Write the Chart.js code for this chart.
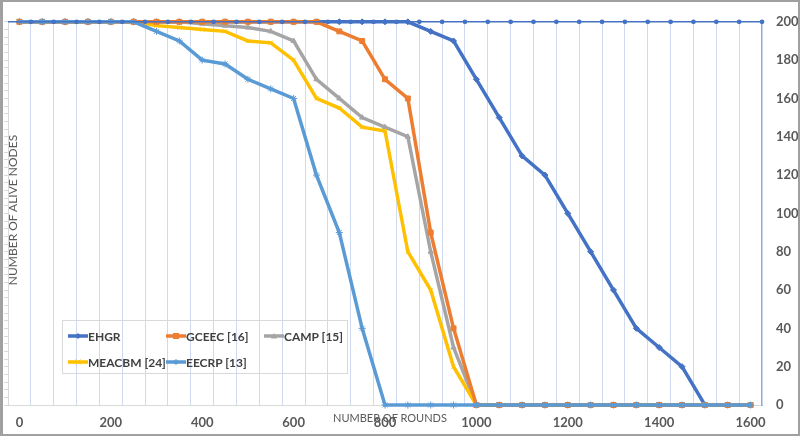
<!DOCTYPE html>
<html><head><meta charset="utf-8">
<script src="https://cdn.jsdelivr.net/npm/chart.js@4.4.1/dist/chart.umd.min.js"></script>
<style>
html,body{margin:0;padding:0;background:#fff;}
#wrap{position:relative;width:800px;height:436px;overflow:hidden;background:#fff;}
#c{position:absolute;left:0;top:0;}
#frame{position:absolute;left:0;top:0;width:800px;height:436px;box-sizing:border-box;border:2px solid #a0a0a0;border-left-width:3px;pointer-events:none;}
#legend{position:absolute;left:62px;top:320px;width:286px;height:54px;border:1px solid #d9d9d9;box-sizing:border-box;}
.item{position:absolute;font:bold 12px Lato, sans-serif;color:#404040;white-space:nowrap;display:flex;align-items:center;height:14px;}
#xtitle{position:absolute;left:333px;top:411px;font:11px Lato, sans-serif;color:#595959;white-space:nowrap;}
#ytitle{position:absolute;left:12px;top:210px;transform:translate(-50%,-50%) rotate(-90deg);font:12px Lato, sans-serif;color:#595959;white-space:nowrap;}
</style></head>
<body>
<div id="wrap">
<canvas id="c" width="800" height="436"></canvas>
<div id="legend"></div>
<div id="xtitle">NUMBER OF ROUNDS</div>
<div id="ytitle">NUMBER OF ALIVE NODES</div>
<div id="frame"></div>
</div>
<script>
// ---- data ----
const rounds = [0,50,100,150,200,250,300,350,400,450,500,550,600,650,700,750,800,850,900,950,1000,1050,1100,1150,1200,1250,1300,1350,1400,1450,1500,1550,1600];
const ehgr   = [200,200,200,200,200,200,200,200,200,200,200,200,200,200,200,200,200,200,195,190,170,150,130,120,100,80,60,40,30,20,0,0,0];
const gceec  = [200,200,200,200,200,200,200,200,200,200,200,200,200,200,195,190,170,160,90,40,0,0,0,0,0,0,0,0,0,0,0,0,0];
const camp   = [200,200,200,200,200,200,200,200,199,198,197,195,190,170,160,150,145,140,80,30,0,0,0,0,0,0,0,0,0,0,0,0,0];
const meacbm = [200,200,200,200,200,200,198,197,196,195,190,189,180,160,155,145,143,80,60,20,0,0,0,0,0,0,0,0,0,0,0,0,0];
const eecrp  = [200,200,200,200,200,200,195,190,180,178,170,165,160,120,90,40,0,0,0,0,0,0,0,0,0,0,0,0,0,0,0,0,0];
const topLineRounds = [-25,25,75,125,175,225,275,325,375,425,475,525,575,625,675,725,775,825,875,925,975,1025,1075,1125,1175,1225,1275,1325,1375,1425,1475,1525,1575,1625];
const topLineValues = [200,200,200,200,200,200,200,200,200,200,200,200,200,200,200,200,200,200,200,200,200,200,200,200,200,200,200,200,200,200,200,200,200,200];
const seriesNames = ['EHGR','GCEEC [16]','CAMP [15]','MEACBM [24]','EECRP [13]'];
const xTickLabels = [0,200,400,600,800,1000,1200,1400,1600];
const xGridLines = [25,75,125,175,225,275,325,375,425,475,525,575,625,675,725,775,825,875,925,975,1025,1075,1125,1175,1225,1275,1325,1375,1425,1475,1525,1575];
const yTickLabels = [0,20,40,60,80,100,120,140,160,180,200];

// ---- styles ----
const colors = ['#4472C4','#ED7D31','#A5A5A5','#FFC000','#5B9BD5'];
const markers = ['rectRot','rect','triangle','crossRot','star'];
const markerR = [3,3.5,3,3,3.5];
const orders = [5,2,4,3,1];
const seriesData = [ehgr,gceec,camp,meacbm,eecrp];

const datasets = seriesData.map((vals,i)=>({
  label: seriesNames[i],
  data: rounds.map((r,k)=>({x:r,y:vals[k]})),
  borderColor: colors[i],
  backgroundColor: colors[i],
  borderWidth: 3.5,
  pointStyle: markers[i],
  pointRadius: markerR[i],
  pointBorderWidth: 1,
  pointBorderColor: colors[i],
  pointBackgroundColor: colors[i],
  tension: 0,
  order: orders[i],
  clip: 6
}));
datasets.push({
  label: '',
  data: topLineRounds.map((r,k)=>({x:r,y:topLineValues[k]})),
  borderColor: '#4472C4',
  backgroundColor: '#4472C4',
  borderWidth: 1.5,
  pointStyle: 'circle',
  pointRadius: ctx => ctx.dataIndex === 0 ? 0 : 2.4,
  pointBorderWidth: 0,
  tension: 0,
  order: 0,
  clip: 6
});

Chart.defaults.font.family = 'Lato, sans-serif';
const chart = new Chart(document.getElementById('c'), {
  type: 'line',
  data: { datasets },
  options: {
    responsive: false,
    animation: false,
    devicePixelRatio: 1,
    layout: { padding: 0 },
    plugins: { legend: { display: false }, tooltip: { enabled: false } },
    scales: {
      x: {
        type: 'linear', position: 'bottom', min: -25, max: 1625,
        grid: { display: false, drawTicks: false },
        border: { display: true, color: '#d9d9d9', width: 1 },
        ticks: { font: { size: 13, weight: 'bold' }, color: '#595959', padding: 10, maxRotation: 0, autoSkip: false, callback: v => String(v) },
        afterBuildTicks: s => { s.ticks = xTickLabels.map(v => ({ value: v })); },
        afterFit: s => { s.height = 31; }
      },
      xg: {
        type: 'linear', position: 'top', min: -25, max: 1625,
        grid: { display: true, color: '#cfdaf0', lineWidth: 1, drawTicks: false },
        border: { display: false },
        ticks: { display: false },
        afterBuildTicks: s => { s.ticks = xGridLines.map(v => ({ value: v })); },
        afterFit: s => { s.height = 15; }
      },
      y: {
        type: 'linear', position: 'right', min: 0, max: 200,
        grid: { display: false, drawTicks: false },
        border: { display: true, color: '#8faadc', width: 1.5 },
        ticks: { font: { size: 13, weight: 'bold' }, color: '#595959', padding: 14, callback: v => String(v) },
        afterBuildTicks: s => { s.ticks = yTickLabels.map(v => ({ value: v })); },
        afterFit: s => { s.width = 38; }
      },
      yl: {
        type: 'linear', position: 'left', min: 0, max: 200,
        grid: { display: true, drawOnChartArea: false, drawTicks: true, tickLength: 4, color: '#d9d9d9' },
        border: { display: true, color: '#d9d9d9', width: 1 },
        ticks: { display: false, stepSize: 4 },
        afterFit: s => { s.width = 8; }
      }
    }
  }
});

// ---- HTML legend ----
const legendPos = [[5,8],[103,8],[201,8],[5,34],[103,34]];
const leg = document.getElementById('legend');
function markerSvg(i){
  const c = colors[i], cx = 10, cy = 5;
  let m = '';
  switch(markers[i]){
    case 'rectRot': m = `<polygon points="${cx},${cy-3} ${cx+3},${cy} ${cx},${cy+3} ${cx-3},${cy}" fill="${c}"/>`; break;
    case 'rect': m = `<rect x="${cx-3}" y="${cy-3}" width="6" height="6" fill="${c}"/>`; break;
    case 'triangle': m = `<polygon points="${cx},${cy-3} ${cx+3},${cy+2.5} ${cx-3},${cy+2.5}" fill="${c}"/>`; break;
    case 'crossRot': m = `<path d="M${cx-2.5} ${cy-2.5}L${cx+2.5} ${cy+2.5}M${cx+2.5} ${cy-2.5}L${cx-2.5} ${cy+2.5}" stroke="${c}" stroke-width="1"/>`; break;
    case 'star': m = `<path d="M${cx-3} ${cy}L${cx+3} ${cy}M${cx} ${cy-3}L${cx} ${cy+3}M${cx-2} ${cy-2}L${cx+2} ${cy+2}M${cx+2} ${cy-2}L${cx-2} ${cy+2}" stroke="${c}" stroke-width="1"/>`; break;
  }
  return `<svg width="20" height="10" viewBox="0 0 20 10"><line x1="0" y1="5" x2="20" y2="5" stroke="${c}" stroke-width="3.5"/>${m}</svg>`;
}
seriesNames.forEach((n,i)=>{
  const d = document.createElement('div');
  d.className = 'item';
  d.style.left = legendPos[i][0] + 'px';
  d.style.top = legendPos[i][1] + 'px';
  d.innerHTML = markerSvg(i) + '<span>' + n + '</span>';
  leg.appendChild(d);
});
</script>
</body></html>
